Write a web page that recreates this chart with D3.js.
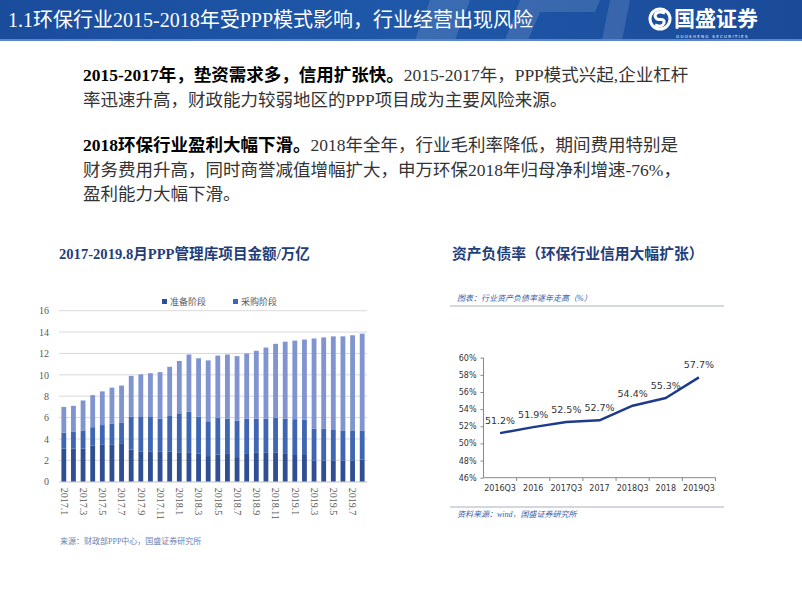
<!DOCTYPE html>
<html><head><meta charset="utf-8">
<script src="https://cdn.jsdelivr.net/npm/d3@7"></script>
<style>html,body{margin:0;padding:0;background:#fff;}svg{display:block;}</style>
</head><body>
<svg id="c" width="802" height="602"></svg>
<script>
// ---- Data ----
const months = ["2017.1","2017.2","2017.3","2017.4","2017.5","2017.6","2017.7","2017.8","2017.9","2017.10","2017.11","2017.12",
 "2018.1","2018.2","2018.3","2018.4","2018.5","2018.6","2018.7","2018.8","2018.9","2018.10","2018.11","2018.12",
 "2019.1","2019.2","2019.3","2019.4","2019.5","2019.6","2019.7","2019.8"];
const prepStage = [3.1,3.1,3.1,3.4,3.5,3.5,3.6,3.0,2.8,2.8,2.8,2.8,2.7,2.7,2.65,2.4,2.55,2.6,2.3,2.6,2.7,2.7,2.7,2.6,2.5,2.5,1.95,1.95,1.95,2.0,1.95,2.05];
const procureStage = [1.5,1.6,1.7,1.7,1.8,1.95,1.9,3.1,3.25,3.25,3.1,3.35,3.7,3.85,3.45,3.25,3.45,3.3,3.4,3.3,3.2,3.2,3.3,3.3,3.35,3.3,3.0,3.0,2.95,2.8,2.85,2.75];
const execStage = [2.4,2.4,2.8,3.0,3.15,3.35,3.5,3.8,4.0,4.1,4.35,4.6,4.9,5.35,5.45,5.7,5.8,6.0,6.05,6.1,6.35,6.65,6.9,7.2,7.35,7.5,8.45,8.55,8.7,8.8,8.9,9.05];
const barSeriesNames = ["准备阶段","采购阶段","执行阶段"];
const leftTicks = [0,2,4,6,8,10,12,14,16];

const periods = ["2016Q3","2016","2017Q3","2017","2018Q3","2018","2019Q3"];
const debtRatio = [51.2,51.9,52.5,52.7,54.4,55.3,57.7];
const rightTicks = [46,48,50,52,54,56,58,60];

const svg = d3.select("#c");
const CN = "'Liberation Serif','Noto Sans CJK SC',serif";
const SANS = "'DejaVu Sans','Noto Sans CJK SC',sans-serif";

// ---- Header ----
const defs = svg.append("defs");
const g1 = defs.append("linearGradient").attr("id","hdr").attr("x1","0").attr("x2","1").attr("y1","0").attr("y2","0");
g1.append("stop").attr("offset","0").attr("stop-color","#1a4c9c");
g1.append("stop").attr("offset","0.5").attr("stop-color","#1f58a9");
g1.append("stop").attr("offset","1").attr("stop-color","#1a4a98");
svg.append("rect").attr("x",0).attr("y",0).attr("width",802).attr("height",40).attr("fill","url(#hdr)");
const wm = svg.append("g").attr("fill","#ffffff").attr("opacity",0.12);
wm.append("path").attr("d","M430,0 L470,0 L455,40 L415,40 Z");
wm.append("path").attr("d","M520,0 L600,0 L595,12 L540,12 L528,40 L505,40 Z");
wm.append("path").attr("d","M610,0 L630,0 L622,40 L602,40 Z");
svg.append("rect").attr("x",0).attr("y",39).attr("width",802).attr("height",2).attr("fill","#5d86c4");
svg.append("text").attr("x",8).attr("y",27).attr("fill","#fff")
  .style("font-family",CN).style("font-size","20px")
  .text("1.1环保行业2015-2018年受PPP模式影响，行业经营出现风险");
// logo
const lg = svg.append("g");
lg.append("circle").attr("cx",660).attr("cy",19).attr("r",10).attr("fill","none").attr("stroke","#fff").attr("stroke-width",3);
lg.append("path").attr("d","M665,13 Q656,10 655,16 Q656,20 660,19.5 Q665,19 664,23 Q662,28 655,25")
  .attr("fill","none").attr("stroke","#fff").attr("stroke-width",3);
lg.append("text").attr("x",674).attr("y",26).attr("fill","#fff").style("font-family","'Noto Sans CJK SC',sans-serif")
  .style("font-size","21px").style("font-weight","bold").text("国盛证券");
lg.append("text").attr("x",676).attr("y",37.5).attr("fill","#fff").style("font-family",SANS)
  .style("font-size","4px").style("letter-spacing","1.3px").text("GUOSHENG SECURITIES");

// ---- Body text ----
const body = svg.append("g").style("font-family",CN).style("font-size","17.5px").attr("fill","#111");
function line(y, parts){
  const t = body.append("text").attr("x",83).attr("y",y);
  parts.forEach(p=>t.append("tspan").style("font-weight",p[1]?"bold":"normal").attr("fill",p[1]?"#000":"#333").text(p[0]));
}
line(81,[["2015-2017年，垫资需求多，信用扩张快。",true],["2015-2017年，PPP模式兴起,企业杠杆",false]]);
line(106,[["率迅速升高，财政能力较弱地区的PPP项目成为主要风险来源。",false]]);
line(151,[["2018环保行业盈利大幅下滑。",true],["2018年全年，行业毛利率降低，期间费用特别是",false]]);
line(176,[["财务费用升高，同时商誉减值增幅扩大，申万环保2018年归母净利增速-76%，",false]]);
line(200,[["盈利能力大幅下滑。",false]]);

// ---- Left chart ----
svg.append("text").attr("x",59).attr("y",259).attr("fill","#1f3e7a")
  .style("font-family",CN).style("font-size","14.6px").style("font-weight","bold")
  .text("2017-2019.8月PPP管理库项目金额/万亿");

const xL = d3.scaleBand().domain(months).range([59,367]).paddingInner(0.5).paddingOuter(0.25);
const yL = d3.scaleLinear().domain([0,16]).range([481.7,310.7]);
const gridG = svg.append("g");
leftTicks.forEach(t=>{
  gridG.append("line").attr("x1",59).attr("x2",367).attr("y1",yL(t)).attr("y2",yL(t))
   .attr("stroke","#d9d9d9").attr("stroke-width",1);
});
const yAxisL = d3.axisLeft(yL).tickValues(leftTicks).tickSize(0).tickPadding(10);
const yaG = svg.append("g").attr("transform","translate(59,0)").call(yAxisL);
yaG.select(".domain").remove();
yaG.selectAll("text").style("font-family",CN).style("font-size","10px").attr("fill","#595959");

const tableRows = months.map((m,i)=>({m, "准备阶段":prepStage[i], "采购阶段":procureStage[i], "执行阶段":execStage[i]}));
const stack = d3.stack().keys(barSeriesNames)(tableRows);
const barColors = {"准备阶段":"#2f4f92","采购阶段":"#3f66b3","执行阶段":"#8094cf"};
stack.forEach(s=>{
  svg.append("g").attr("fill",barColors[s.key]).selectAll("rect").data(s).join("rect")
    .attr("x",d=>xL(d.data.m)).attr("width",xL.bandwidth())
    .attr("y",d=>yL(d[1])).attr("height",d=>yL(d[0])-yL(d[1]));
});
const xAxisL = d3.axisBottom(xL).tickValues(months.filter((m,i)=>i%2===0)).tickSize(0).tickPadding(0);
const xaG = svg.append("g").attr("transform","translate(0,481.7)").call(xAxisL);
xaG.select(".domain").attr("stroke","#d9d9d9");
xaG.selectAll("text").attr("transform","rotate(90)").attr("x",6).attr("y",0).attr("dy","0.32em")
  .style("text-anchor","start").style("font-family",CN).style("font-size","10px").attr("fill","#595959");

const legL = svg.append("g").style("font-family",CN).style("font-size","9px");
[["准备阶段",162],["采购阶段",233]].forEach(([k,x])=>{
  legL.append("rect").attr("x",x).attr("y",299).attr("width",5).attr("height",5).attr("fill",barColors[k]);
  legL.append("text").attr("x",x+8).attr("y",305).attr("fill","#595959").text(k);
});
svg.append("text").attr("x",60).attr("y",544).attr("fill","#6b7fae")
  .style("font-family",CN).style("font-size","8px").text("来源：财政部PPP中心，国盛证券研究所");

// ---- Right chart ----
svg.append("text").attr("x",452).attr("y",259).attr("fill","#1f3e7a")
  .style("font-family",CN).style("font-size","14.8px").style("font-weight","bold")
  .text("资产负债率（环保行业信用大幅扩张）");
svg.append("text").attr("x",457).attr("y",301).attr("fill","#3a5ea8")
  .style("font-family",CN).style("font-size","8px").style("font-style","italic")
  .text("图表：行业资产负债率逐年走高（%）");
svg.append("line").attr("x1",450).attr("x2",724).attr("y1",306).attr("y2",306).attr("stroke","#a9afbd").attr("stroke-width",1);
svg.append("line").attr("x1",450).attr("x2",724).attr("y1",507).attr("y2",507).attr("stroke","#a9afbd").attr("stroke-width",1);
svg.append("text").attr("x",457).attr("y",517).attr("fill","#3a5ea8")
  .style("font-family",CN).style("font-size","8px").style("font-style","italic")
  .text("资料来源：wind，国盛证券研究所");

const xR = d3.scaleBand().domain(periods).range([483.5,715.5]);
const yR = d3.scaleLinear().domain([46,60]).range([477.7,357.7]);
const yaR = svg.append("g").attr("transform","translate(483.5,0)")
  .call(d3.axisLeft(yR).tickValues(rightTicks).tickSize(3).tickPadding(4).tickFormat(d=>d+"%"));
yaR.select(".domain").attr("stroke","#888").attr("d","M0,"+yR(60)+"V"+yR(46));
yaR.selectAll(".tick line").attr("stroke","#888");
yaR.selectAll("text").style("font-family",SANS).style("font-size","8px").attr("fill","#333");
const xaR = svg.append("g").attr("transform","translate(0,477.7)")
  .call(d3.axisBottom(xR).tickSize(0).tickPadding(8));
xaR.select(".domain").attr("stroke","#888").attr("d","M483.5,0H715.5");
xaR.selectAll("text").style("font-family",SANS).style("font-size","8px").attr("fill","#333");
periods.forEach((p,i)=>{
  const bx = xR(p)+xR.bandwidth();
  svg.append("line").attr("x1",bx).attr("x2",bx).attr("y1",477.7).attr("y2",481).attr("stroke","#888");
});
const pts = periods.map((p,i)=>({p, v:debtRatio[i]}));
svg.append("path").datum(pts).attr("fill","none").attr("stroke","#1f3a8c").attr("stroke-width",2.5)
  .attr("stroke-linejoin","round")
  .attr("d",d3.line().x(d=>xR(d.p)+xR.bandwidth()/2).y(d=>yR(d.v)));
svg.append("g").selectAll("text").data(pts).join("text")
  .attr("x",d=>xR(d.p)+xR.bandwidth()/2).attr("y",d=>yR(d.v)-9)
  .attr("text-anchor","middle").style("font-family",SANS).style("font-size","9.5px").attr("fill","#333")
  .text(d=>d.v.toFixed(1)+"%");
</script>
</body></html>
